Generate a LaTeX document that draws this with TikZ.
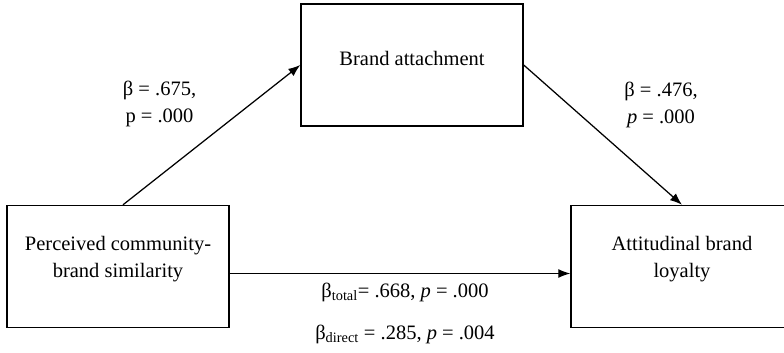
\documentclass[tikz,border=0pt]{standalone}
\usepackage{fontspec}
\setmainfont{Liberation Serif}
\usetikzlibrary{arrows.meta,%
                positioning}

\begin{document}
\begin{tikzpicture}[x=1pt,y=-1pt,>={Latex[length=12pt,width=9pt]},
                    font=\fontsize{20.5}{27}\selectfont]
  \tikzset{varbox/.style = {draw, line width=1.4pt, minimum width=222pt,
                            minimum height=122pt, inner sep=0pt}}
  \tikzset{boxtext/.style = {align=center, yshift=7pt}}
  \tikzset{effect/.style = {->, line width=1.25pt}}
  \tikzset{coeff/.style = {inner sep=0pt, align=center, anchor=north}}
  \useasboundingbox (0,0) rectangle (784,353);

  % variables
  \node[varbox, label={[boxtext]center:Perceived community-\\brand similarity}] (pcbs) at (118,266.5) {};
  \node[varbox, label={[boxtext]center:Brand attachment}] (attach) at (412,65) {};
  \node[varbox, label={[boxtext]center:Attitudinal brand\\loyalty}] (abl) at (682,266.5) {};

  % paths
  \draw[effect] ([xshift=5pt]pcbs.north) -- (attach.west);
  \draw[effect] (attach.east) -- (abl.north);
  \draw[effect] ([yshift=-7pt]pcbs.east) -- ([yshift=-7pt]abl.west);

  % coefficients
  \node[coeff] (c1) at (159.5,80.5) {β = .675,\\p = .000};
  \node[coeff] (c2) at (661,81.5) {β = .476,\\\textit{p} = .000};
  \node[coeff] (c3) at (405,282.5) {β\textsubscript{total}= .668, \textit{p} = .000\\[15pt]
                                    β\textsubscript{direct} = .285, \textit{p} = .004};
\end{tikzpicture}
\end{document}
